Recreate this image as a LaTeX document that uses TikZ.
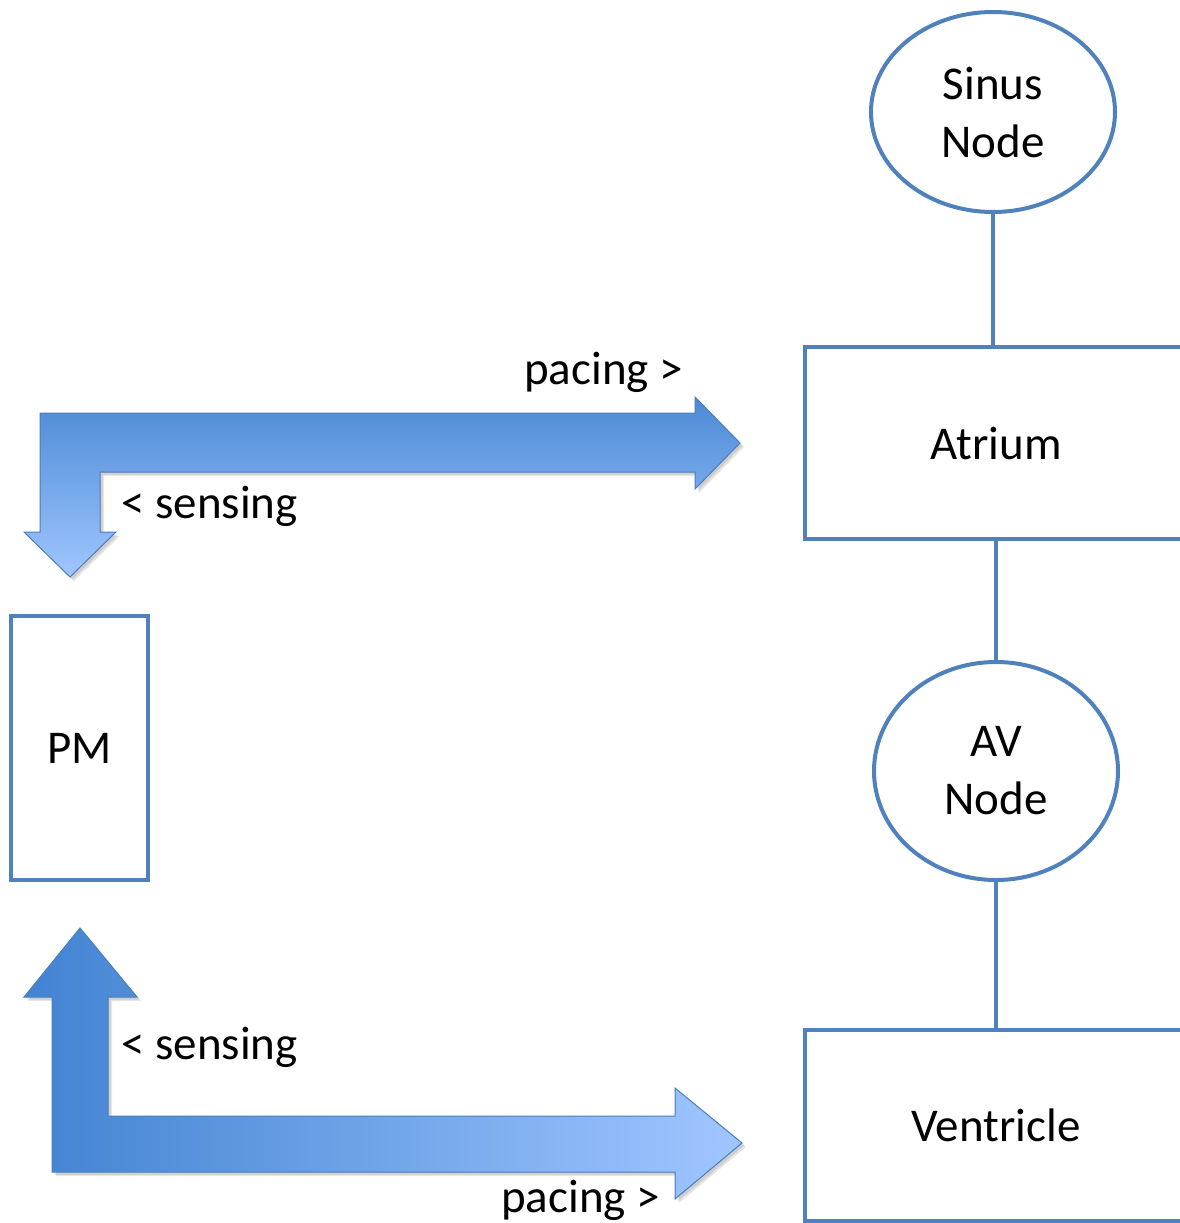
\documentclass[tikz,border=0pt]{standalone}
\usepackage{fontspec}
\setmainfont{Carlito}
\usetikzlibrary{shapes.geometric}

\definecolor{edgeblue}{HTML}{4F81BD}
\definecolor{arrowdark}{HTML}{4283D2}
\definecolor{arrowlight}{HTML}{A0C6FF}
\definecolor{arrowline}{HTML}{4A7EBB}

\tikzset{
  bigfont/.style={font=\fontsize{47}{58}\selectfont},
  organ/.style={draw=edgeblue, line width=4pt, fill=white, rectangle,
    inner sep=0pt, bigfont, align=center},
  nodal/.style={draw=edgeblue, line width=4pt, fill=white, ellipse,
    inner sep=0pt, bigfont, align=center},
  link/.style={draw=edgeblue, line width=4pt},
  fatarrow/.style={draw=arrowline, line width=1pt, line join=miter},
  arrowshadow/.style={fill=black, opacity=0.10},
  lbl/.style={bigfont, inner sep=0pt, anchor=base west}
}

\begin{document}
\begin{tikzpicture}[x=1pt, y=-1pt]
\useasboundingbox (0,0) rectangle (1179,1223);

% heart conduction chain
\node[nodal, minimum width=244, minimum height=200] (sinus) at (993,112) {Sinus\\Node};
\node[organ, minimum width=382, minimum height=192] (atrium) at (996,443) {Atrium};
\node[nodal, minimum width=244, minimum height=218] (av) at (996,771) {AV\\Node};
\node[organ, minimum width=382, minimum height=191] (ventricle) at (996,1125) {Ventricle};

\draw[link] (sinus.south) -- (sinus.south |- atrium.north);
\draw[link] (atrium.south -| av.north) -- (av.north);
\draw[link] (av.south) -- (av.south |- ventricle.north);

% pacemaker
\node[organ, minimum width=137, minimum height=264] (pm) at (79.5,748) {PM};

% atrial lead: pacing to the right, sensing down to the pacemaker
\foreach \d in {4,2.5}
  \fill[arrowshadow, shift={(\d,\d)}]
    (40,413) -- (695,413) -- (695,397) -- (740,443) -- (695,489) -- (695,472)
    -- (100,472) -- (100,532) -- (116,532) -- (70,577) -- (24,532) -- (40,532) -- cycle;
\shade[fatarrow, top color=arrowdark!95!white, bottom color=arrowlight]
  (40,413) -- (695,413) -- (695,397) -- (740,443) -- (695,489) -- (695,472)
  -- (100,472) -- (100,532) -- (116,532) -- (70,577) -- (24,532) -- (40,532) -- cycle;

% ventricular lead: pacing to the right, sensing up to the pacemaker
\foreach \d in {4,2.5}
  \fill[arrowshadow, shift={(\d,\d)}]
    (52,1172) -- (52,997) -- (24,997) -- (80,928) -- (137,997) -- (108,997)
    -- (108,1116) -- (675,1116) -- (675,1088) -- (742,1143) -- (675,1199)
    -- (675,1172) -- cycle;
\shade[fatarrow, left color=arrowdark, right color=arrowlight]
  (52,1172) -- (52,997) -- (24,997) -- (80,928) -- (137,997) -- (108,997)
  -- (108,1116) -- (675,1116) -- (675,1088) -- (742,1143) -- (675,1199)
  -- (675,1172) -- cycle;

% lead labels
\node[lbl] (paceA) at (524,384) {pacing >};
\node[lbl] (senseA) at (121,518) {< sensing};
\node[lbl] (senseV) at (121,1059) {< sensing};
\node[lbl] (paceV) at (501,1212) {pacing >};
\end{tikzpicture}
\end{document}
